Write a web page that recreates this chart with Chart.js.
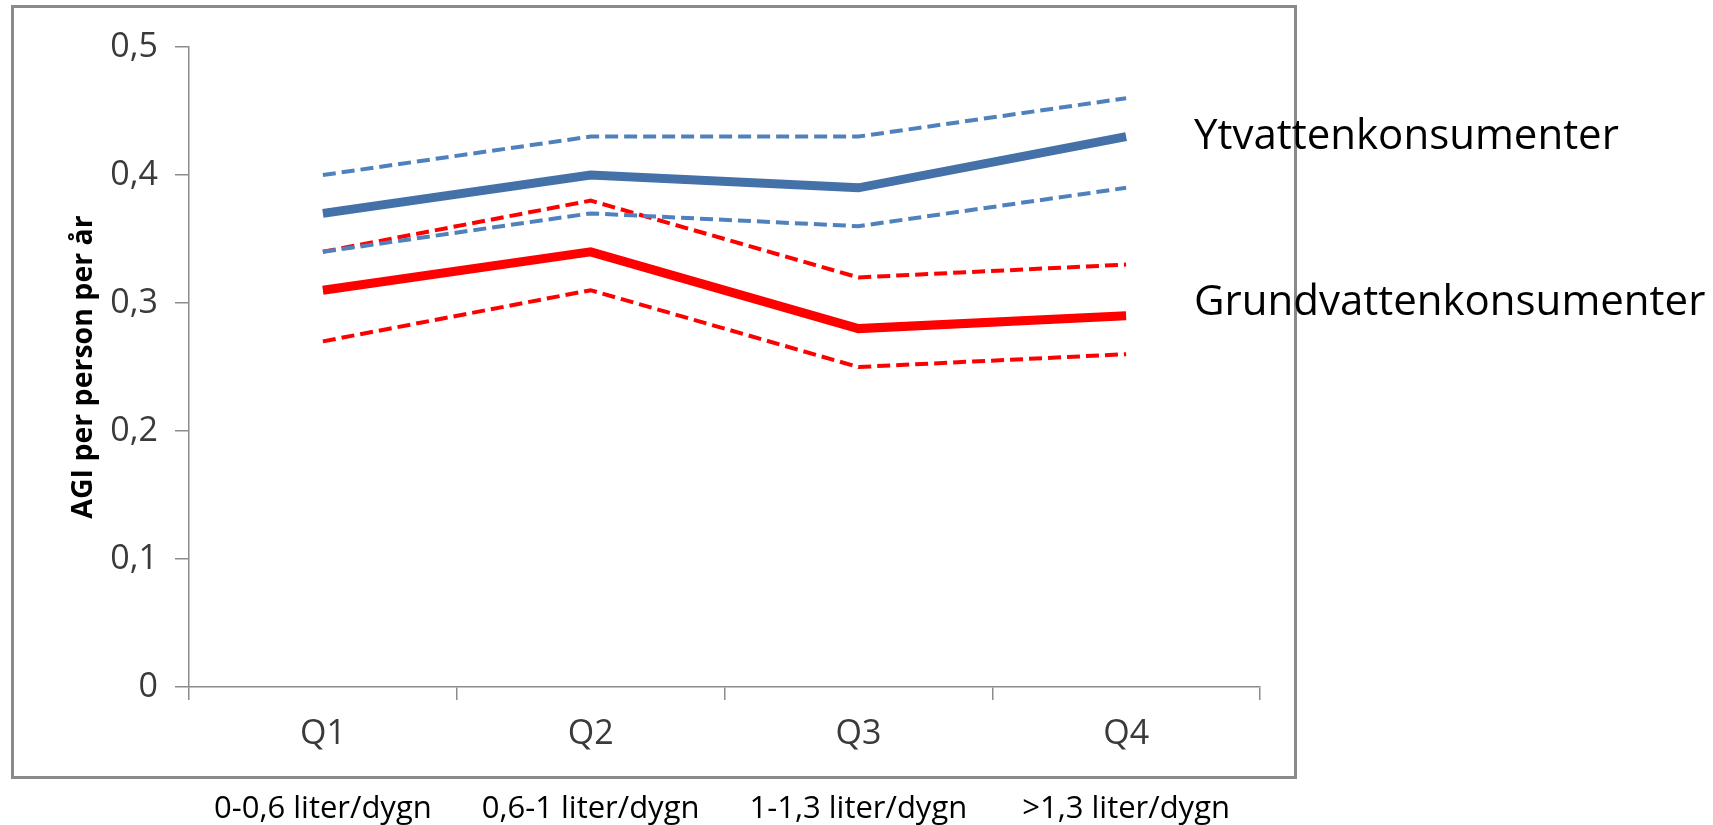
<!DOCTYPE html>
<html>
<head>
<meta charset="utf-8">
<script src="https://cdn.jsdelivr.net/npm/chart.js@4"></script>
<style>
  body { margin: 0; background: #fff; }
  #wrap { position: relative; width: 1713px; height: 825px; }
  #frame { position: absolute; left: 11px; top: 5px; width: 1280px; height: 768px; border: 3px solid #8a8a8a; }
  #wrap canvas { position: absolute; left: 0; top: 0; }
</style>
</head>
<body>
<div id="wrap">
  <div id="frame"></div>
  <canvas id="chart" width="1713" height="825"></canvas>
</div>
<script>
const categories = ['Q1', 'Q2', 'Q3', 'Q4'];
const ranges = ['0-0,6 liter/dygn', '0,6-1 liter/dygn', '1-1,3 liter/dygn', '>1,3 liter/dygn'];
const yTicks = [0, 0.1, 0.2, 0.3, 0.4, 0.5];

// Ytvatten (surface water) - mean and interval
const ytMean = [0.37, 0.40, 0.39, 0.43];
const ytHigh = [0.40, 0.43, 0.43, 0.46];
const ytLow = [0.34, 0.37, 0.36, 0.39];

// Grundvatten (ground water) - mean and interval
const grMean = [0.31, 0.34, 0.28, 0.29];
const grHigh = [0.34, 0.38, 0.32, 0.33];
const grLow = [0.27, 0.31, 0.25, 0.26];

const blue = '#4471a8';
const lightBlue = '#4f81bd';
const red = '#ff0000';
const axisGrey = '#8c8c8c';

function line(data, color, width, dashed, label) {
  return {
    data: data,
    borderColor: color,
    borderWidth: width,
    borderDash: dashed ? [13, 6] : [],
    pointRadius: 0,
    tension: 0,
    fill: false,
    xAxisID: 'x',
    endLabel: label
  };
}

// series names written at the end of the solid lines
const endLabels = {
  id: 'endLabels',
  afterDatasetsDraw(chart) {
    const ctx = chart.ctx;
    const yScale = chart.scales.y;
    ctx.save();
    ctx.font = '42px "Open Sans"';
    ctx.fillStyle = '#000';
    ctx.textBaseline = 'middle';
    chart.data.datasets.forEach(ds => {
      if (!ds.endLabel) return;
      const last = ds.data[ds.data.length - 1];
      const y = yScale.getPixelForValue(last) + ds.endLabel.dy;
      ctx.fillText(ds.endLabel.text, chart.chartArea.right - 66, y);
    });
    ctx.restore();
  }
};

new Chart(document.getElementById('chart'), {
  type: 'line',
  data: {
    labels: categories,
    datasets: [
      line(ytHigh, lightBlue, 4, true),
      line(ytLow, lightBlue, 4, true),
      line(grHigh, red, 4, true),
      line(grLow, red, 4, true),
      line(ytMean, blue, 9, false, { text: 'Ytvattenkonsumenter', dy: 0 }),
      line(grMean, red, 9, false, { text: 'Grundvattenkonsumenter', dy: -13 })
    ]
  },
  options: {
    responsive: false,
    animation: false,
    layout: { padding: { left: 0, top: 47, right: 453, bottom: 0 } },
    plugins: {
      legend: { display: false },
      tooltip: { enabled: false }
    },
    scales: {
      y: {
        min: 0,
        max: 0.5,
        afterBuildTicks: s => { s.ticks = yTicks.map(v => ({ value: v })); },
        afterFit: s => { s.width = 189; },
        border: { color: axisGrey, width: 1.5 },
        grid: { drawOnChartArea: false, color: axisGrey, lineWidth: 1.5, tickLength: 14 },
        ticks: {
          padding: 17,
          color: '#3a3a3a',
          font: { family: 'Open Sans', size: 34 },
          callback: v => v === 0 ? '0' : v.toFixed(1).replace('.', ',')
        },
        title: {
          display: true,
          text: 'AGI per person per år',
          color: '#000',
          font: { family: 'Open Sans', size: 28.5, weight: 'bold' },
          padding: { top: 67 }
        }
      },
      x: {
        position: 'bottom',
        offset: true,
        afterFit: s => { s.height = 75; },
        border: { color: axisGrey, width: 1.5 },
        grid: { offset: true, drawOnChartArea: false, color: axisGrey, lineWidth: 1.5, tickLength: 13 },
        ticks: {
          padding: 14,
          color: '#3a3a3a',
          font: { family: 'Open Sans', size: 34 }
        }
      },
      x2: {
        type: 'category',
        position: 'bottom',
        labels: ranges,
        offset: true,
        afterFit: s => { s.height = 63; },
        border: { display: false },
        grid: { display: false, drawTicks: false },
        ticks: {
          padding: 29,
          color: '#000',
          font: { family: 'Open Sans', size: 31 }
        }
      }
    }
  },
  plugins: [endLabels]
});
</script>
</body>
</html>
